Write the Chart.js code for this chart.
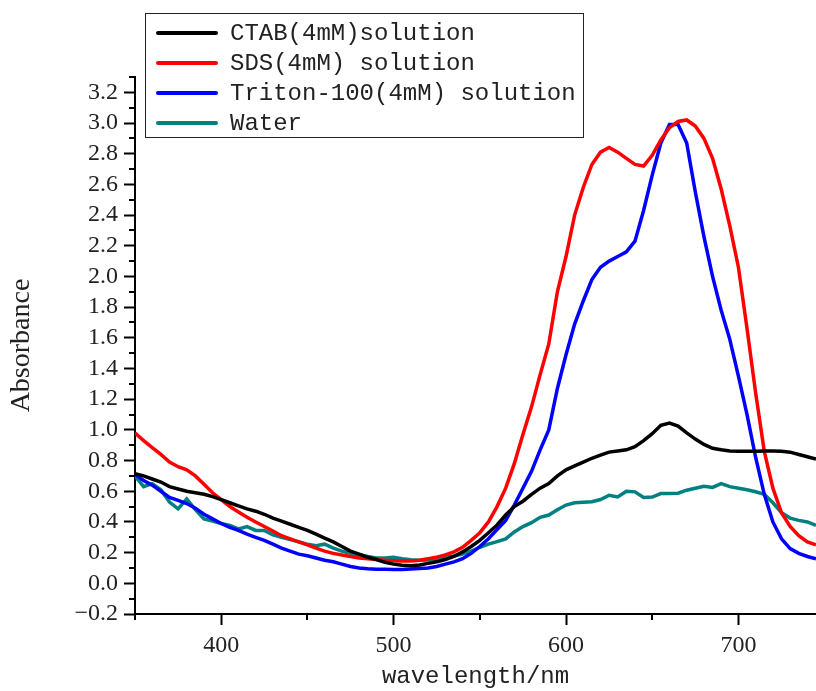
<!DOCTYPE html>
<html>
<head>
<meta charset="utf-8">
<script src="https://cdn.jsdelivr.net/npm/chart.js@4"></script>
<style>
  html, body { margin: 0; padding: 0; background: #fff; }
  #wrap { width: 816px; height: 691px; }
</style>
</head>
<body>
<div id="wrap"><canvas id="myChart" width="816" height="691"></canvas></div>
<script>
// longitud de onda (nm), cada 5 nm
var wavelength = [
  350, 355, 360, 365, 370, 375, 380, 385, 390, 395,
  400, 405, 410, 415, 420, 425, 430, 435, 440, 445,
  450, 455, 460, 465, 470, 475, 480, 485, 490, 495,
  500, 505, 510, 515, 520, 525, 530, 535, 540, 545,
  550, 555, 560, 565, 570, 575, 580, 585, 590, 595,
  600, 605, 610, 615, 620, 625, 630, 635, 640, 645,
  650, 655, 660, 665, 670, 675, 680, 685, 690, 695,
  700, 705, 710, 715, 720, 725, 730, 735, 740, 745
];

var ctab = [
  0.715, 0.70, 0.68, 0.66, 0.63, 0.615, 0.60, 0.59, 0.58, 0.565,
  0.545, 0.525, 0.505, 0.485, 0.47, 0.45, 0.425, 0.405, 0.385, 0.365,
  0.345, 0.32, 0.295, 0.27, 0.24, 0.21, 0.19, 0.17, 0.155, 0.137,
  0.125, 0.118, 0.115, 0.12, 0.13, 0.14, 0.155, 0.175, 0.205, 0.24,
  0.28, 0.33, 0.38, 0.445, 0.50, 0.535, 0.58, 0.62, 0.65, 0.70,
  0.74, 0.765, 0.79, 0.815, 0.835, 0.855, 0.862, 0.87, 0.89, 0.93,
  0.975, 1.03, 1.045, 1.025, 0.98, 0.94, 0.905, 0.88, 0.87, 0.863,
  0.86, 0.86, 0.86, 0.862, 0.863, 0.86, 0.855, 0.84, 0.825, 0.81
];

var sds = [
  0.98, 0.93, 0.885, 0.84, 0.79, 0.76, 0.74, 0.70, 0.645, 0.59,
  0.545, 0.50, 0.465, 0.43, 0.40, 0.37, 0.34, 0.31, 0.29, 0.27,
  0.25, 0.23, 0.21, 0.195, 0.185, 0.175, 0.165, 0.16, 0.155, 0.15,
  0.147, 0.145, 0.146, 0.15, 0.16, 0.17, 0.185, 0.205, 0.235, 0.28,
  0.33, 0.40, 0.50, 0.62, 0.78, 0.97, 1.15, 1.36, 1.56, 1.90,
  2.13, 2.40, 2.58, 2.73, 2.81, 2.84, 2.81, 2.77, 2.73, 2.72,
  2.79, 2.89, 2.97, 3.01, 3.02, 2.98, 2.90, 2.77, 2.57, 2.33,
  2.06, 1.66, 1.24, 0.86, 0.62, 0.46, 0.37, 0.31, 0.27, 0.25
];

var triton = [
  0.71, 0.67, 0.64, 0.60, 0.56, 0.54, 0.52, 0.49, 0.45, 0.42,
  0.39, 0.365, 0.345, 0.32, 0.30, 0.28, 0.255, 0.23, 0.21, 0.19,
  0.18, 0.165, 0.15, 0.14, 0.125, 0.11, 0.10, 0.095, 0.092, 0.091,
  0.09, 0.09, 0.093, 0.096, 0.10, 0.11, 0.125, 0.14, 0.16, 0.195,
  0.24, 0.29, 0.35, 0.41, 0.51, 0.62, 0.73, 0.87, 1.0, 1.27,
  1.49, 1.69, 1.84, 1.98, 2.06, 2.10, 2.13, 2.16, 2.23, 2.43,
  2.66, 2.87, 2.99, 2.99, 2.87, 2.55, 2.26, 2.00, 1.78, 1.59,
  1.35, 1.10, 0.82, 0.58, 0.40, 0.29, 0.226, 0.195, 0.175, 0.16
];

var water = [
  0.70, 0.63, 0.65, 0.61, 0.53, 0.485, 0.55, 0.48, 0.42, 0.405,
  0.39, 0.378, 0.355, 0.37, 0.345, 0.345, 0.315, 0.30, 0.285, 0.27,
  0.255, 0.245, 0.255, 0.23, 0.21, 0.195, 0.185, 0.175, 0.165, 0.165,
  0.17, 0.16, 0.153, 0.15, 0.152, 0.158, 0.17, 0.178, 0.19, 0.21,
  0.235, 0.255, 0.272, 0.29, 0.335, 0.37, 0.395, 0.43, 0.445, 0.48,
  0.51, 0.525, 0.528, 0.532, 0.546, 0.574, 0.563, 0.60, 0.596, 0.56,
  0.562, 0.585, 0.585, 0.587, 0.607, 0.62, 0.633, 0.625, 0.65, 0.63,
  0.62, 0.61, 0.597, 0.58, 0.525, 0.46, 0.425, 0.41, 0.40, 0.378
];

var seriesNames = ["CTAB(4mM)solution", "SDS(4mM) solution", "Triton-100(4mM) solution", "Water"];
var seriesColors = ["#000000", "#ff0000", "#0000ff", "#008080"];

// marcas de los ejes
var xTicks = [400, 500, 600, 700];
var xMinor = [350, 450, 550, 650];
var yTicks = [-0.2, 0, 0.2, 0.4, 0.6, 0.8, 1.0, 1.2, 1.4, 1.6, 1.8, 2.0, 2.2, 2.4, 2.6, 2.8, 3.0, 3.2];
var yMinor = [-0.1, 0.1, 0.3, 0.5, 0.7, 0.9, 1.1, 1.3, 1.5, 1.7, 1.9, 2.1, 2.3, 2.5, 2.7, 2.9, 3.1, 3.3];

function toPoints(ys) {
  return wavelength.map(function (x, i) { return { x: x, y: ys[i] }; });
}

var allSeries = [ctab, sds, triton, water];

// ticks menores, mas cortos que los mayores
var minorTicks = {
  id: "minorTicks",
  afterDraw: function (chart) {
    var ctx = chart.ctx, area = chart.chartArea;
    var x = chart.scales.x, y = chart.scales.y;
    ctx.save();
    ctx.strokeStyle = "#000";
    ctx.lineWidth = 2;
    ctx.beginPath();
    xMinor.forEach(function (v) {
      var px = Math.round(x.getPixelForValue(v));
      ctx.moveTo(px, area.bottom);
      ctx.lineTo(px, area.bottom + 6);
    });
    yMinor.forEach(function (v) {
      var py = Math.round(y.getPixelForValue(v));
      ctx.moveTo(area.left, py);
      ctx.lineTo(area.left - 6, py);
    });
    ctx.stroke();
    ctx.restore();
  }
};

// leyenda con recuadro, dibujada a mano
var boxLegend = {
  id: "boxLegend",
  afterDraw: function (chart) {
    var ctx = chart.ctx;
    ctx.save();
    ctx.fillStyle = "#fff";
    ctx.fillRect(145.5, 13.5, 438, 124);
    ctx.strokeStyle = "#222";
    ctx.lineWidth = 1;
    ctx.strokeRect(145.5, 13.5, 438, 124);
    ctx.font = "24px 'Liberation Mono', monospace";
    ctx.textBaseline = "middle";
    ctx.textAlign = "left";
    chart.data.datasets.forEach(function (ds, i) {
      var yy = 33 + i * 30;
      ctx.strokeStyle = ds.borderColor;
      ctx.lineWidth = 4;
      ctx.lineCap = "round";
      ctx.beginPath();
      ctx.moveTo(158, yy);
      ctx.lineTo(216, yy);
      ctx.stroke();
      ctx.fillStyle = "#222";
      ctx.fillText(ds.label, 230, yy + 1);
    });
    ctx.restore();
  }
};

var ctx = document.getElementById("myChart").getContext("2d");
var myChart = new Chart(ctx, {
  type: "line",
  data: {
    datasets: allSeries.map(function (ys, i) {
      return {
        label: seriesNames[i],
        data: toPoints(ys),
        borderColor: seriesColors[i],
        backgroundColor: seriesColors[i],
        borderWidth: 3.5,
        pointRadius: 0,
        tension: 0,
        fill: false
      };
    })
  },
  options: {
    responsive: false,
    animation: false,
    layout: { padding: { top: 77, right: 0, left: 0, bottom: 0 } },
    plugins: {
      legend: { display: false },
      tooltip: { enabled: false }
    },
    scales: {
      x: {
        type: "linear",
        min: 350,
        max: 745,
        grid: { drawOnChartArea: false, drawTicks: true, tickLength: 11, tickWidth: 2, tickColor: "#000" },
        border: { display: true, color: "#000", width: 2 },
        afterBuildTicks: function (s) {
          s.ticks = xTicks.map(function (v) { return { value: v }; });
        },
        afterFit: function (s) { s.height = 77; },
        ticks: {
          autoSkip: false,
          maxRotation: 0,
          padding: 6,
          color: "#222",
          font: { family: "'Liberation Serif', serif", size: 24 },
          callback: function (v) { return String(v); }
        },
        title: {
          display: true,
          text: "wavelength/nm",
          color: "#222",
          padding: 0,
          font: { family: "'Liberation Mono', monospace", size: 24, lineHeight: 1.2 }
        }
      },
      y: {
        type: "linear",
        min: -0.2,
        max: 3.3,
        grid: { drawOnChartArea: false, drawTicks: true, tickLength: 11, tickWidth: 2, tickColor: "#000" },
        border: { display: true, color: "#000", width: 2 },
        afterBuildTicks: function (s) {
          s.ticks = yTicks.map(function (v) { return { value: v }; });
        },
        afterFit: function (s) { s.width = 135; },
        ticks: {
          autoSkip: false,
          padding: 6,
          color: "#222",
          font: { family: "'Liberation Serif', serif", size: 24 },
          callback: function (v) { return v.toFixed(1).replace("-", "\u2212"); }
        },
        title: {
          display: true,
          text: "Absorbance",
          color: "#222",
          padding: { top: 5, bottom: 0 },
          font: { family: "'Liberation Serif', serif", size: 28, lineHeight: 1.2 }
        }
      }
    }
  },
  plugins: [minorTicks, boxLegend]
});
</script>
</body>
</html>
